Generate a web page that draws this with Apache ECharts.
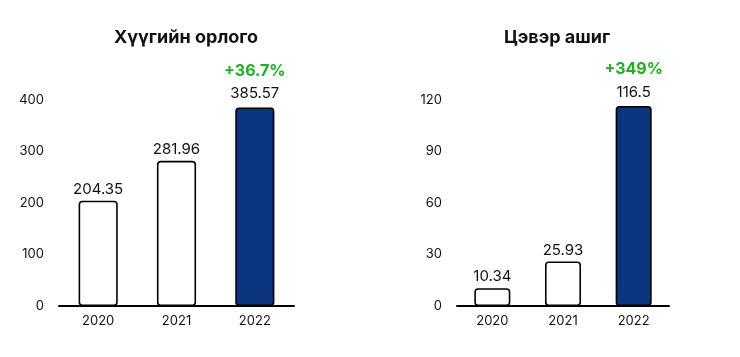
<!DOCTYPE html>
<html><head><meta charset="utf-8">
<script src="https://cdn.jsdelivr.net/npm/echarts@6/dist/echarts.min.js"></script>
<style>html,body{margin:0;padding:0;background:#fff}#c{width:740px;height:357px}</style>
</head><body><div id="c"></div>
<script>
const categories = ['2020', '2021', '2022'];
const revenue = [204.35, 281.96, 385.57];
const profit = [10.34, 25.93, 116.5];
const titles = ['Хүүгийн орлого', 'Цэвэр ашиг'];
const growth = ['+36.7%', '+349%'];
const revenueTicks = { min: 0, max: 400, interval: 100 };
const profitTicks = { min: 0, max: 120, interval: 30 };

const FONT = 'Inter';
const NAVY = '#0b357f';
const GREEN = '#1fae24';

function barData(vals, g) {
  return vals.map((v, i) => {
    const last = i === vals.length - 1;
    return {
      value: v,
      itemStyle: { color: last ? NAVY : '#ffffff' },
      label: last ? {
        formatter: '{g|' + g + '}\n{v|{c}}'
      } : undefined
    };
  });
}

const chart = echarts.init(document.getElementById('c'));
const axisX = (gi) => ({
  type: 'category', gridIndex: gi, data: categories,
  axisLine: { lineStyle: { color: '#000', width: 2 } },
  axisTick: { show: false },
  axisLabel: { color: '#111', fontSize: 13, fontFamily: FONT, margin: 9 }
});
const axisY = (gi, t) => ({
  type: 'value', gridIndex: gi, min: t.min, max: t.max, interval: t.interval,
  splitLine: { show: false }, axisLine: { show: false }, axisTick: { show: false },
  axisLabel: { color: '#111', fontSize: 13, fontFamily: FONT, margin: 15 }
});
const labelBase = {
  show: true, position: 'top', distance: 4, color: '#111', fontSize: 15, fontFamily: FONT,
  rich: {
    g: { color: GREEN, fontSize: 16, fontWeight: 'bold', fontFamily: FONT, lineHeight: 25 },
    v: { color: '#111', fontSize: 15, fontFamily: FONT, lineHeight: 20 }
  }
};
chart.setOption({
  animation: false,
  title: [
    { text: titles[0], left: 181, top: 24, textAlign: 'center',
      textStyle: { fontSize: 18, fontWeight: 'bold', color: '#111', fontFamily: FONT } },
    { text: titles[1], left: 552, top: 24, textAlign: 'center',
      textStyle: { fontSize: 18, fontWeight: 'bold', color: '#111', fontFamily: FONT } }
  ],
  grid: [
    { left: 59, right: 446, top: 100, bottom: 51 },
    { left: 457, right: 71, top: 100, bottom: 51 }
  ],
  xAxis: [axisX(0), axisX(1)],
  yAxis: [axisY(0, revenueTicks), axisY(1, profitTicks)],
  series: [
    { type: 'bar', xAxisIndex: 0, yAxisIndex: 0, barWidth: '50%',
      data: barData(revenue, growth[0]),
      itemStyle: { borderColor: '#000', borderWidth: 1.6, borderRadius: 3 },
      label: labelBase },
    { type: 'bar', xAxisIndex: 1, yAxisIndex: 1, barWidth: '51%',
      data: barData(profit, growth[1]),
      itemStyle: { borderColor: '#000', borderWidth: 1.6, borderRadius: 3 },
      label: labelBase }
  ]
});
</script></body></html>
